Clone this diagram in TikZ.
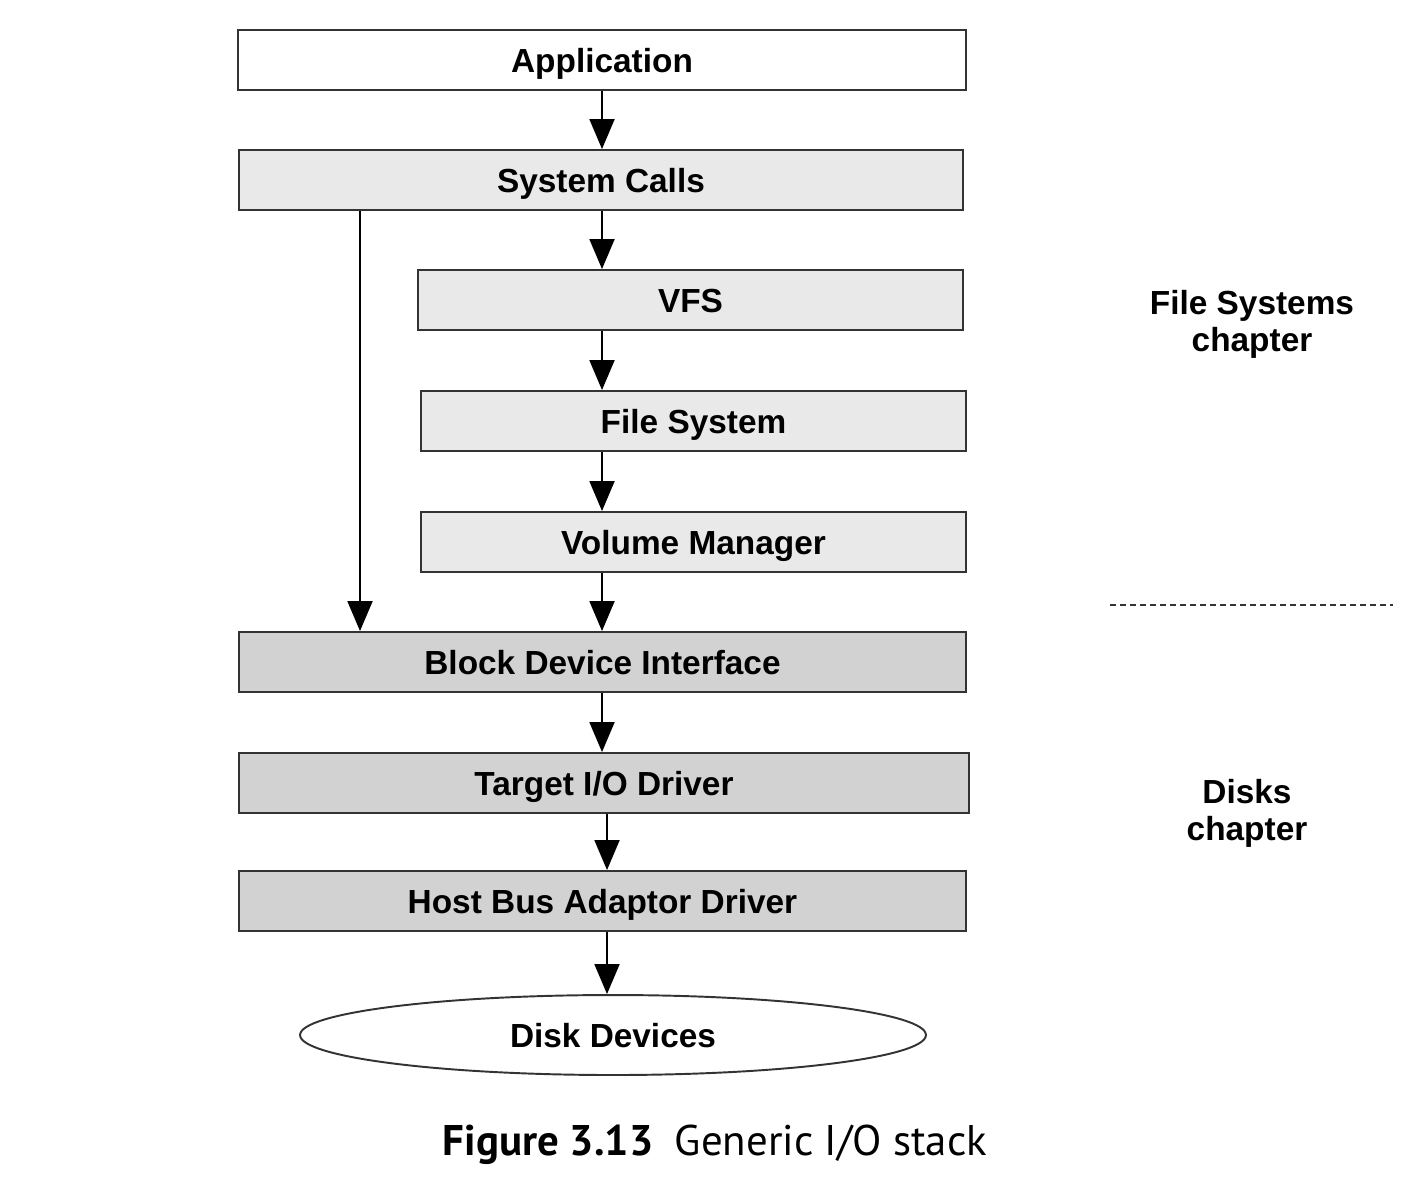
\documentclass[tikz,border=0pt]{standalone}
\usepackage{fontspec}
\setmainfont{Liberation Sans}
\newfontfamily\capfont{PT Sans}
\usepackage{tikz}
\usetikzlibrary{arrows.meta,positioning,shapes.geometric}
\definecolor{rim}{HTML}{333333}
\definecolor{lite}{HTML}{E9E9E9}
\definecolor{deep}{HTML}{D2D2D2}
\tikzset{
  box/.style={draw=rim, rectangle, line width=1.1pt, minimum height=1.2cm, inner sep=0pt,
    text height=13.7pt, text depth=0pt, font=\fontsize{19}{22}\selectfont\bfseries},
  top/.style={box, fill=white},
  upper/.style={box, fill=lite},
  lower/.style={box, fill=deep},
  disk/.style={box, ellipse, fill=white, minimum height=1.6cm},
  arr/.style={-{Triangle[length=0.6cm, width=0.5cm]}, line width=1.1pt, draw=black},
  note/.style={align=center, font=\fontsize{19}{21}\selectfont\bfseries},
  sep/.style={line width=1.1pt, draw=rim, dash pattern=on 3.4pt off 2.3pt}
}

\begin{document}
\begin{tikzpicture}[x=0.02cm, y=-0.02cm]
\useasboundingbox (0,0) rectangle (1422,1178);
\node[top, minimum width=14.56cm] (app) at (602,60) {Application};
\node[upper, minimum width=14.48cm] (sys) at (601,180) {System Calls};
\node[upper, minimum width=10.9cm] (vfs) at (690.5,300) {VFS};
\node[upper, minimum width=10.9cm] (fs) at (693.5,421) {File System};
\node[upper, minimum width=10.9cm] (vm) at (693.5,542) {Volume Manager};
\node[lower, minimum width=14.54cm] (bdi) at (602.5,662) {Block Device Interface};
\node[lower, minimum width=14.6cm] (tio) at (604,783) {Target I/O Driver};
\node[lower, minimum width=14.54cm] (hba) at (602.5,901) {Host Bus Adaptor Driver};
\node[disk, minimum width=12.52cm] (dev) at (613,1035) {Disk Devices};
\node[note] (fsch) at (1252,324) {File Systems\\chapter};
\node[note] (dkch) at (1247,813) {Disks\\chapter};
\node[font=\capfont\fontsize{24.4}{28}\selectfont] (cap) at (715,1145) {\textbf{Figure 3.13}\enspace Generic I/O stack};
\coordinate (spine) at (602,0);
\coordinate (spine2) at (607,0);
\coordinate (side) at (360,0);
\coordinate (sepl) at (1110,605);
\coordinate (sepr) at (1393,605);
% main path down the stack
\draw[arr] (app.south -| spine) -- (sys.north -| spine);
\foreach \s/\t in {sys/vfs,vfs/fs,fs/vm,vm/bdi,bdi/tio}
  \draw[arr] (\s.south -| spine) -- (\t.north -| spine);
\draw[arr] (tio.south -| spine2) -- (hba.north -| spine2);
\draw[arr] (hba.south -| spine2) -- (dev.north -| spine2);
% raw path past the file system
\draw[arr] (sys.south -| side) -- (bdi.north -| side);
\draw[sep] (sepl) -- (sepr);
\end{tikzpicture}
\end{document}
